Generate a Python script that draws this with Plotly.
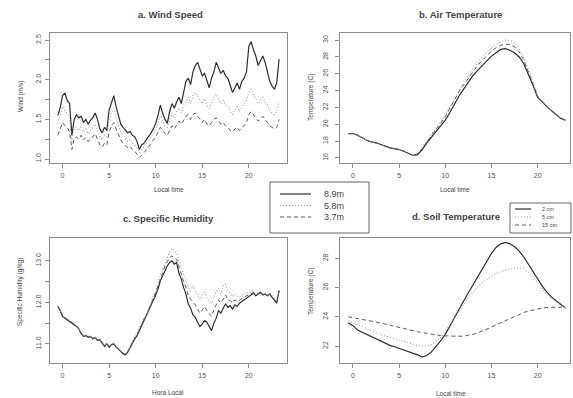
import plotly.graph_objects as go

W, H = 573, 398

# ---------------- data ----------------
# a / c: quarter-hourly samples from -0.5 h
t_fast = [-0.5 + 0.25 * i for i in range(96)]
# b / d: half-hourly samples from -0.5 h
t_slow = [-0.5 + 0.5 * i for i in range(48)]

wind_89 = [
    1.55, 1.65, 1.80, 1.83, 1.74, 1.70, 1.30, 1.50,
    1.56, 1.52, 1.54, 1.46, 1.50, 1.44, 1.49, 1.52,
    1.58, 1.50, 1.38, 1.33, 1.40, 1.36, 1.62, 1.72,
    1.80, 1.66, 1.55, 1.44, 1.40, 1.36, 1.33, 1.35,
    1.30, 1.28, 1.22, 1.12, 1.18, 1.20, 1.24, 1.28,
    1.33, 1.38, 1.45, 1.55, 1.68, 1.58, 1.50, 1.45,
    1.60, 1.70, 1.64, 1.72, 1.78, 1.70, 1.84, 1.98,
    2.02, 1.94, 2.10, 2.18, 2.22, 2.12, 2.05, 2.08,
    1.98, 1.90, 2.02, 2.10, 2.22, 2.16, 2.08, 2.12,
    2.05, 2.02, 1.92, 1.84, 1.90, 1.96, 1.88, 1.98,
    2.02, 2.10, 2.42, 2.48, 2.38, 2.30, 2.18, 2.24,
    2.30, 2.22, 2.10, 1.98, 1.92, 1.88, 1.96, 2.26,
]
wind_58 = [
    1.45, 1.55, 1.66, 1.60, 1.58, 1.50, 1.22, 1.38,
    1.40, 1.36, 1.42, 1.34, 1.38, 1.32, 1.36, 1.40,
    1.44, 1.36, 1.28, 1.24, 1.30, 1.28, 1.48, 1.58,
    1.64, 1.52, 1.42, 1.34, 1.30, 1.26, 1.22, 1.25,
    1.20, 1.18, 1.14, 1.08, 1.12, 1.15, 1.20, 1.22,
    1.27, 1.32, 1.38, 1.45, 1.55, 1.48, 1.42, 1.40,
    1.50, 1.58, 1.52, 1.60, 1.64, 1.58, 1.68, 1.74,
    1.78, 1.70, 1.80, 1.84, 1.80, 1.74, 1.70, 1.76,
    1.68, 1.64, 1.72, 1.78, 1.82, 1.76, 1.70, 1.74,
    1.68, 1.66, 1.60, 1.56, 1.62, 1.66, 1.60, 1.66,
    1.70, 1.74, 1.84, 1.88, 1.82, 1.76, 1.70, 1.74,
    1.78, 1.72, 1.68, 1.62, 1.58, 1.56, 1.60, 1.72,
]
wind_37 = [
    1.30, 1.38, 1.46, 1.42, 1.40, 1.34, 1.12, 1.26,
    1.28, 1.25, 1.30, 1.24, 1.27, 1.22, 1.26, 1.28,
    1.32, 1.25, 1.18, 1.15, 1.20, 1.18, 1.34, 1.42,
    1.46, 1.38, 1.30, 1.24, 1.20, 1.17, 1.14, 1.16,
    1.12, 1.10, 1.06, 1.02, 1.05, 1.08, 1.12, 1.15,
    1.20, 1.24, 1.28, 1.34, 1.40, 1.36, 1.32, 1.30,
    1.36, 1.42, 1.38, 1.44, 1.48, 1.44, 1.50, 1.54,
    1.56, 1.50, 1.56, 1.58, 1.54, 1.50, 1.46, 1.50,
    1.44, 1.42, 1.46, 1.50, 1.52, 1.48, 1.44, 1.46,
    1.42, 1.40, 1.36, 1.34, 1.38, 1.40, 1.36, 1.40,
    1.42, 1.46, 1.56, 1.60, 1.56, 1.52, 1.48, 1.50,
    1.54, 1.50, 1.46, 1.42, 1.40, 1.38, 1.40, 1.50,
]

air_89 = [18.9, 18.9, 18.7, 18.4, 18.1, 17.9, 17.8, 17.6, 17.4, 17.2, 17.1, 17.0,
          16.8, 16.5, 16.3, 16.4, 17.0, 17.8, 18.5, 19.1, 19.8, 20.5, 21.4, 22.4,
          23.4, 24.2, 25.0, 25.8, 26.4, 27.0, 27.6, 28.1, 28.5, 28.9, 29.0, 28.8,
          28.5, 28.0, 27.2, 26.0, 24.6, 23.2, 22.6, 22.1, 21.6, 21.1, 20.7, 20.5]
air_58 = [18.9, 18.9, 18.7, 18.4, 18.1, 17.9, 17.8, 17.6, 17.4, 17.2, 17.1, 17.0,
          16.8, 16.5, 16.3, 16.5, 17.2, 18.0, 18.8, 19.5, 20.3, 21.1, 22.1, 23.1,
          24.1, 25.0, 25.8, 26.6, 27.3, 28.0, 28.6, 29.1, 29.5, 29.8, 30.0, 30.0,
          29.7, 29.0, 27.9, 26.5, 24.9, 23.4, 22.7, 22.1, 21.6, 21.1, 20.7, 20.5]
air_37 = [18.9, 18.9, 18.7, 18.4, 18.1, 17.9, 17.8, 17.6, 17.4, 17.2, 17.1, 17.0,
          16.8, 16.5, 16.3, 16.5, 17.1, 17.9, 18.7, 19.4, 20.1, 20.9, 21.9, 22.9,
          23.9, 24.7, 25.5, 26.3, 27.0, 27.6, 28.2, 28.7, 29.1, 29.4, 29.5, 29.5,
          29.2, 28.6, 27.6, 26.3, 24.8, 23.3, 22.6, 22.1, 21.6, 21.1, 20.7, 20.5]

hum_89 = [
    11.90, 11.80, 11.66, 11.62, 11.58, 11.56, 11.52, 11.48,
    11.42, 11.36, 11.24, 11.18, 11.20, 11.16, 11.18, 11.12,
    11.16, 11.08, 11.10, 11.02, 10.94, 11.00, 10.92, 10.98,
    11.00, 10.92, 10.88, 10.82, 10.76, 10.74, 10.80, 10.92,
    11.02, 11.12, 11.20, 11.32, 11.44, 11.56, 11.66, 11.80,
    11.92, 12.04, 12.18, 12.32, 12.52, 12.64, 12.78, 12.88,
    12.96, 13.00, 12.92, 12.96, 12.70, 12.56, 12.36, 12.20,
    11.96, 11.86, 11.70, 11.64, 11.52, 11.42, 11.48, 11.56,
    11.52, 11.40, 11.32, 11.50, 11.62, 11.80, 11.74, 11.86,
    11.96, 11.88, 11.92, 11.84, 11.94, 11.90, 11.98, 12.02,
    12.06, 12.10, 12.14, 12.20, 12.22, 12.16, 12.20, 12.24,
    12.18, 12.20, 12.16, 12.20, 12.12, 12.06, 11.98, 12.28,
]
hum_58 = [
    11.92, 11.82, 11.68, 11.63, 11.60, 11.57, 11.53, 11.50,
    11.44, 11.37, 11.26, 11.20, 11.21, 11.18, 11.19, 11.14,
    11.17, 11.10, 11.11, 11.04, 10.96, 11.01, 10.94, 10.99,
    11.01, 10.94, 10.89, 10.84, 10.78, 10.76, 10.82, 10.95,
    11.06, 11.16, 11.25, 11.38, 11.50, 11.62, 11.72, 11.84,
    12.00, 12.14, 12.30, 12.46, 12.66, 12.80, 12.98, 13.10,
    13.22, 13.30, 13.24, 13.18, 13.00, 12.84, 12.66, 12.50,
    12.36, 12.28, 12.40, 12.30, 12.16, 12.06, 12.18, 12.24,
    12.10, 12.02, 11.98, 12.14, 12.26, 12.34, 12.20, 12.40,
    12.44, 12.28, 12.22, 12.14, 12.20, 12.16, 12.12, 12.18,
    12.22, 12.24, 12.22, 12.26, 12.28, 12.22, 12.24, 12.26,
    12.20, 12.22, 12.18, 12.22, 12.16, 12.10, 12.04, 12.30,
]
hum_37 = [
    11.91, 11.81, 11.67, 11.62, 11.59, 11.56, 11.52, 11.49,
    11.43, 11.36, 11.25, 11.19, 11.20, 11.17, 11.18, 11.13,
    11.16, 11.09, 11.10, 11.03, 10.95, 11.00, 10.93, 10.98,
    11.00, 10.93, 10.88, 10.83, 10.77, 10.75, 10.81, 10.93,
    11.04, 11.14, 11.22, 11.35, 11.47, 11.59, 11.69, 11.82,
    11.96, 12.10, 12.24, 12.40, 12.58, 12.72, 12.88, 12.98,
    13.08, 13.12, 13.06, 13.04, 12.84, 12.70, 12.50, 12.36,
    12.16, 12.08, 12.02, 11.94, 11.84, 11.74, 11.82, 11.90,
    11.80, 11.72, 11.66, 11.82, 11.94, 12.06, 11.98, 12.10,
    12.18, 12.06, 12.04, 11.98, 12.06, 12.02, 12.06, 12.10,
    12.14, 12.16, 12.18, 12.22, 12.24, 12.18, 12.22, 12.24,
    12.18, 12.20, 12.16, 12.20, 12.14, 12.08, 12.00, 12.28,
]

soil_2 = [23.6, 23.4, 23.1, 22.95, 22.8, 22.6, 22.45, 22.3, 22.2, 22.05, 21.95, 21.85,
          21.75, 21.6, 21.5, 21.4, 21.25, 21.35, 21.6, 21.95, 22.35, 22.8, 23.4, 23.95,
          24.5, 25.1, 25.65, 26.2, 26.8, 27.35, 27.9, 28.35, 28.75, 29.0, 29.1, 29.0,
          28.8, 28.5, 28.1, 27.6, 27.1, 26.6, 26.1, 25.7, 25.35, 25.1, 24.85, 24.6]
soil_5 = [23.75, 23.6, 23.45, 23.3, 23.15, 23.0, 22.9, 22.8, 22.7, 22.6, 22.5, 22.4,
          22.3, 22.2, 22.1, 22.05, 22.0, 22.0, 22.1, 22.3, 22.6, 23.0, 23.45, 23.9,
          24.4, 24.85, 25.3, 25.7, 26.05, 26.35, 26.6, 26.8, 26.95, 27.1, 27.2, 27.3,
          27.35, 27.35, 27.3, 27.05, 26.7, 26.3, 25.9, 25.55, 25.25, 25.0, 24.8, 24.6]
soil_15 = [24.0, 23.95, 23.9, 23.85, 23.8, 23.72, 23.65, 23.58, 23.5, 23.42, 23.35, 23.28,
           23.2, 23.12, 23.05, 22.98, 22.92, 22.86, 22.8, 22.76, 22.72, 22.7, 22.68, 22.67,
           22.67, 22.68, 22.72, 22.8, 22.9, 23.02, 23.15, 23.3, 23.45, 23.6, 23.75, 23.9,
           24.05, 24.18, 24.3, 24.4, 24.48, 24.55, 24.6, 24.64, 24.66, 24.67, 24.66, 24.62]

height_labels = ["8.9m", "5.8m", "3.7m"]
depth_labels = ["2 cm", "5 cm", "15 cm"]
hour_ticks = [0, 5, 10, 15, 20]

# ---------------- styling ----------------
FONT = "Liberation Sans, Arial, sans-serif"
TXT = "#444444"
AXC = "#8c8c8c"
STYLES = [
    dict(color="#2e2e2e", width=1.2),
    dict(color="#a0a0a0", width=1.1, dash="1px,2px"),
    dict(color="#5a5a5a", width=1.0, dash="4px,3px"),
]


def px(x):
    return x / W


def py(y):
    return 1 - y / H


fig = go.Figure()

panels = [
    ("x", "y", t_fast, [wind_89, wind_58, wind_37]),
    ("x2", "y2", t_slow, [air_89, air_58, air_37]),
    ("x3", "y3", t_fast, [hum_89, hum_58, hum_37]),
    ("x4", "y4", t_slow, [soil_2, soil_5, soil_15]),
]
for xa, ya, t, series in panels:
    for s, st in zip(series, STYLES):
        fig.add_trace(go.Scatter(x=t, y=s, mode="lines", line=st,
                                 xaxis=xa, yaxis=ya, showlegend=False,
                                 hoverinfo="skip"))

axis_common = dict(
    showline=True, mirror=True, linecolor=AXC, linewidth=1,
    ticks="outside", ticklen=4, tickcolor=AXC, tickwidth=1,
    showgrid=False, zeroline=False, fixedrange=True,
    tickfont=dict(family=FONT, size=7, color="#555555"),
)


def xaxis(dom, rng, anchor):
    return dict(axis_common, domain=dom, range=rng, anchor=anchor,
                tickvals=hour_ticks, ticklabelstandoff=2)


def yaxis(dom, rng, anchor, vals, texts, standoff):
    return dict(axis_common, domain=dom, range=rng, anchor=anchor,
                tickvals=vals, ticktext=texts, tickangle=-90,
                ticklabelstandoff=standoff)


left_dom = [px(50), px(287)]
right_dom = [px(340), px(570)]
top_dom = [py(163), py(33)]
bot_dom = [py(363), py(238)]

wind_vals = [1.0, 1.25, 1.5, 1.75, 2.0, 2.25, 2.5]
wind_text = ["1.0", "", "1.5", "", "2.0", "", "2.5"]
air_vals = [16, 18, 20, 22, 24, 26, 28, 30]
hum_vals = [11.0, 11.5, 12.0, 12.5, 13.0]
hum_text = ["11.0", "", "12.0", "", "13.0"]
soil_vals = [22, 24, 26, 28]

fig.update_layout(
    width=W, height=H,
    margin=dict(l=0, r=0, t=0, b=0),
    paper_bgcolor="white", plot_bgcolor="white",
    font=dict(family=FONT, color=TXT),
    xaxis=xaxis(left_dom, [-1.35, 24.1], "y"),
    yaxis=yaxis(top_dom, [0.95, 2.59], "x", wind_vals, wind_text, 1),
    xaxis2=xaxis(right_dom, [-1.4, 23.5], "y2"),
    yaxis2=yaxis(top_dom, [15.4, 30.85], "x2", air_vals,
                 [str(v) for v in air_vals], 4),
    xaxis3=xaxis(left_dom, [-1.35, 24.1], "y3"),
    yaxis3=yaxis(bot_dom, [10.54, 13.55], "x3", hum_vals, hum_text, 1),
    xaxis4=xaxis(right_dom, [-1.4, 23.5], "y4"),
    yaxis4=yaxis(bot_dom, [20.84, 29.4], "x4", soil_vals,
                 [str(v) for v in soil_vals], 4),
)

ann = []


def text(x, y, s, size=7, bold=False, angle=0, anchor="center"):
    ann.append(dict(x=px(x), y=py(y), xref="paper", yref="paper",
                    text=f"<b>{s}</b>" if bold else s, showarrow=False,
                    textangle=angle, xanchor=anchor, yanchor="middle",
                    font=dict(family=FONT, size=size, color=TXT)))


# panel titles
text(170, 14, "a. Wind Speed", size=9.5, bold=True)
text(460, 14, "b. Air Temperature", size=9.5, bold=True)
text(168, 218, "c. Specific Humidity", size=9.5, bold=True)
text(456, 216, "d. Soil Temperature", size=9.5, bold=True)

# axis titles
text(169, 190, "Local time", size=6.5)
text(455, 190, "Local time", size=6.5)
text(168, 392, "Hora Local", size=6.5)
text(451, 393, "Local time", size=6.5)
text(21, 97, "Wind (m/s)", size=6.5, angle=-90)
text(311, 98, "Temperature (C)", size=6.5, angle=-90)
text(20, 292, "Specific Humidity (g/kg)", size=6.5, angle=-90)
text(311, 292, "Temperature (C)", size=6.5, angle=-90)

shapes = []

# legend for the measurement heights
shapes.append(dict(type="rect", xref="paper", yref="paper",
                   x0=px(270), x1=px(369), y0=py(233), y1=py(182),
                   line=dict(color="#666", width=1), fillcolor="white",
                   layer="above"))
for i, (lab, st) in enumerate(zip(height_labels, STYLES)):
    yy = 194 + 11.5 * i
    shapes.append(dict(type="line", xref="paper", yref="paper",
                       x0=px(280), x1=px(311), y0=py(yy), y1=py(yy),
                       line=dict(color=st["color"], width=st["width"],
                                 dash=st.get("dash", "solid")),
                       layer="above"))
    text(322, yy, lab, size=9, anchor="left")

# legend for the soil depths
shapes.append(dict(type="rect", xref="paper", yref="paper",
                   x0=px(510), x1=px(571), y0=py(233), y1=py(203),
                   line=dict(color="#666", width=1), fillcolor="white",
                   layer="above"))
for i, (lab, st) in enumerate(zip(depth_labels, STYLES)):
    yy = 209 + 8 * i
    shapes.append(dict(type="line", xref="paper", yref="paper",
                       x0=px(515), x1=px(531), y0=py(yy), y1=py(yy),
                       line=dict(color=st["color"], width=st["width"],
                                 dash=st.get("dash", "solid")),
                       layer="above"))
    text(540, yy, lab, size=5.5, anchor="left")

fig.update_layout(annotations=ann, shapes=shapes)

fig.write_html("out.html")
